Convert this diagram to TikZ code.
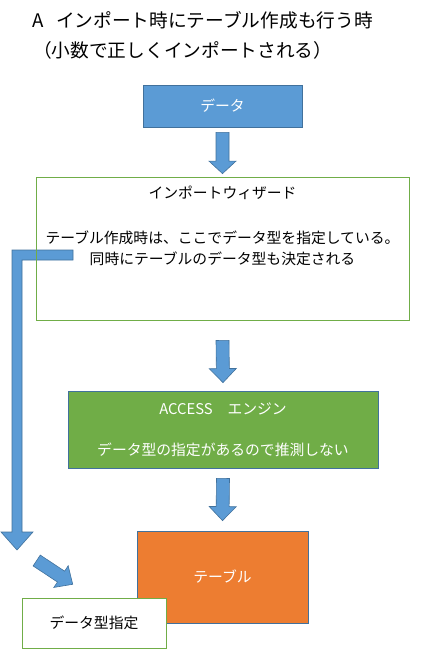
\documentclass[tikz,border=0pt]{standalone}
\usepackage{fontspec}
\setmainfont{Noto Sans CJK JP}
\usepackage{xcolor}
\usepackage{tikz}
\usetikzlibrary{calc,backgrounds}
\definecolor{accblue}{HTML}{5B9BD5}
\definecolor{accline}{HTML}{41719C}
\definecolor{accgreen}{HTML}{70AD47}
\definecolor{accorange}{HTML}{ED7D31}
\newcommand{\fatarrow}[5]{%
  \coordinate (fa-h) at ($(#2)!#5!(#1)$);
  \draw[arrowbody] ($(#1)!#3!90:(#2)$) -- ($(fa-h)!#3!90:(#2)$) -- ($(fa-h)!#4!90:(#2)$) -- (#2)
    -- ($(fa-h)!#4!-90:(#2)$) -- ($(fa-h)!#3!-90:(#2)$) -- ($(#1)!#3!-90:(#2)$) -- cycle;
}

\begin{document}
\begin{tikzpicture}[x=1pt, y=-1pt,
  box/.style={rectangle, inner sep=0pt, line width=0.8pt, align=center, font=\fontsize{14.8}{17.8}\selectfont},
  bodytext/.style={inner sep=0pt, align=center, font=\fontsize{14.8}{21}\selectfont},
  titletext/.style={anchor=west, inner sep=0pt, font=\fontsize{18.7}{22.4}\selectfont},
  arrowbody/.style={fill=accblue, draw=accline, line width=0.6pt, line join=miter}]
  \useasboundingbox (0,0) rectangle (429,649);
  \node[titletext] (title1) at (32.5,20) {A\hspace{12pt}インポート時にテーブル作成も行う時};
  \node[titletext] (title2) at (33,50) {（小数で正しくインポートされる）};
  \node[box, fill=accblue, draw=accline, text=white, minimum width=159pt, minimum height=42pt] (data) at (222.5,106) {データ};
  \node[box, draw=accgreen, minimum width=373pt, minimum height=143pt] (wizard) at (222.5,248.5) {};
  \node[bodytext] (wizTitle) at (222.5,193) {インポートウィザード};
  \node[bodytext] (wizText) at (222.5,248.5) {テーブル作成時は、ここでデータ型を指定している。\\同時にテーブルのデータ型も決定される};
  \node[box, fill=accgreen, draw=accline, text=white, minimum width=310pt, minimum height=77pt, font=\fontsize{14.8}{41}\selectfont] (engine) at (223,429.5) {ACCESS　エンジン\\データ型の指定があるので推測しない};
  \node[box, fill=accorange, draw=accline, text=white, minimum width=171pt, minimum height=92pt] (table) at (222.5,577) {テーブル};
  \coordinate (a1s) at ($(data.south)+(0,5)$);
  \coordinate (a1e) at ($(wizard.north)+(0,-3)$);
  \coordinate (a2s) at ($(wizard.south)+(0,20)$);
  \coordinate (a2e) at ($(engine.north)+(0,-8)$);
  \coordinate (a3s) at ($(engine.south)+(0,10)$);
  \coordinate (a3e) at ($(table.north)+(0,-10)$);
  \coordinate (bendStart) at (73,255);
  \coordinate (bendCorner) at (17,255);
  \coordinate (bendTip) at (17,550);
  \coordinate (diagStart) at (36.7,560.5);
  \coordinate (diagTip) at (72.7,584.3);
  \fatarrow{a1s}{a1e}{6.5pt}{13.5pt}{12.5pt}
  \fatarrow{a2s}{a2e}{6.5pt}{13.5pt}{14pt}
  \fatarrow{a3s}{a3e}{6.5pt}{13.5pt}{14pt}
  \begin{scope}[on background layer]
    \draw[arrowbody] ($(bendStart)+(0,-5)$) -- ($(bendCorner)+(-5,-5)$) -- ($(bendTip)+(-5,-18)$) -- ($(bendTip)+(-16,-18)$) -- (bendTip)
      -- ($(bendTip)+(16,-18)$) -- ($(bendTip)+(5,-18)$) -- ($(bendCorner)+(5,5)$) -- ($(bendStart)+(0,5)$) -- cycle;
  \end{scope}
  \fatarrow{diagStart}{diagTip}{6.5pt}{13pt}{14pt}
  \node[box, fill=white, draw=accgreen, minimum width=144pt, minimum height=50pt] (dtype) at (94,623) {データ型指定};
\end{tikzpicture}
\end{document}
